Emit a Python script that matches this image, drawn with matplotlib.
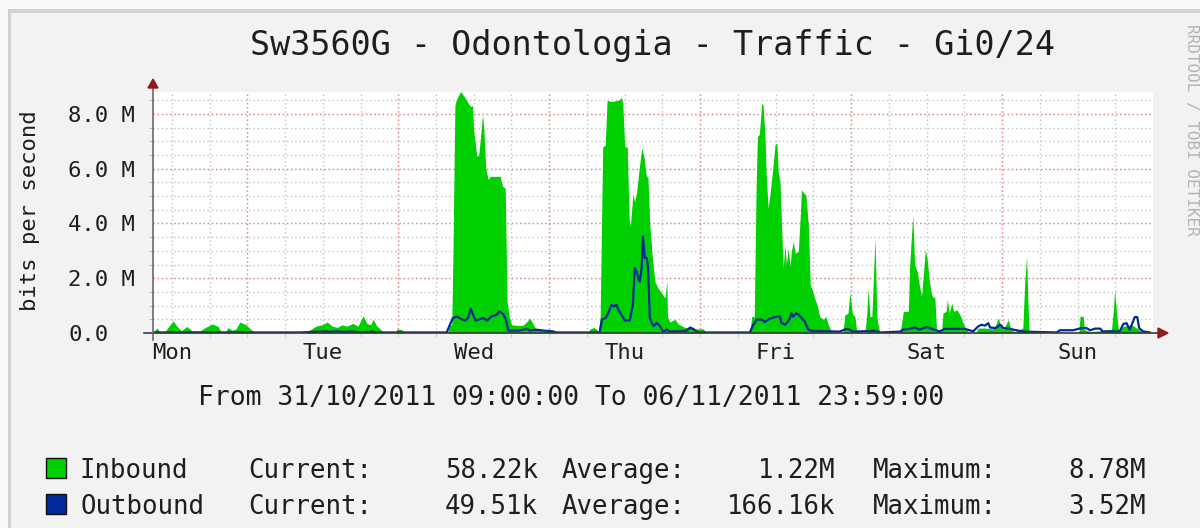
import matplotlib
matplotlib.use("Agg")
import numpy as np
import matplotlib.pyplot as plt
from matplotlib.patches import Rectangle, Polygon

W, H = 1200, 528

# time axis: hours since 31/10/2011 09:00, values in Mbit/s
in_hours = [0.0, 0.3, 0.6, 1.1, 1.9, 2.7, 3.2, 3.8, 4.5, 5.4, 6.2, 7.5, 8.3, 9.4, 10.3, 10.8,
            11.6, 11.9, 12.6, 13.2, 13.8, 14.8, 15.6, 16.5, 24.5, 25.0, 25.9, 26.9, 27.7, 28.5,
            29.3, 30.0, 30.8, 31.8, 32.6, 33.4, 34.0, 34.6, 35.0, 35.6, 36.1, 36.7, 38.5, 38.8,
            39.6, 39.9, 46.9, 47.1, 47.5, 47.7, 48.0, 48.2, 48.9, 49.6, 50.1, 50.5, 50.8, 51.0,
            51.5, 51.8, 52.4, 52.6, 52.9, 53.3, 53.6, 55.2, 55.6, 56.0, 56.3, 56.6, 57.0, 57.8,
            58.8, 59.4, 59.9, 60.5, 61.0, 63.6, 64.1, 69.2, 69.5, 70.1, 70.6, 70.8, 71.1, 71.5,
            71.9, 72.2, 72.9, 74.0, 74.5, 74.7, 75.0, 75.4, 75.7, 75.9, 76.3, 76.6, 76.9, 77.3,
            77.7, 78.1, 78.4, 78.7, 79.0, 79.4, 79.8, 80.3, 80.9, 81.4, 81.7, 81.8, 82.2, 83.0,
            83.5, 84.6, 85.4, 86.4, 87.5, 88.0, 94.9, 95.2, 95.6, 95.9, 96.1, 96.4, 96.8, 97.0,
            97.3, 97.5, 97.8, 98.1, 98.5, 98.9, 99.2, 99.4, 99.7, 99.9, 100.2, 100.5, 100.7,
            101.0, 101.3, 101.5, 101.8, 102.1, 102.6, 102.9, 103.1, 103.5, 103.8, 104.2, 104.5,
            104.9, 105.2, 105.6, 106.0, 106.6, 107.0, 107.4, 107.9, 109.7, 110.0, 110.5, 110.8,
            111.2, 111.6, 111.9, 113.2, 113.5, 113.7, 114.0, 114.3, 114.5, 114.8, 115.1, 115.3,
            115.6, 118.8, 119.3, 120.1, 120.3, 120.8, 121.1, 121.5, 121.8, 122.2, 122.5, 122.8,
            123.1, 123.4, 123.8, 124.1, 124.3, 124.6, 125.4, 125.6, 126.1, 126.3, 126.6, 127.0,
            127.3, 127.8, 128.3, 128.8, 129.3, 129.9, 130.8, 131.2, 132.3, 133.5, 134.0, 134.4,
            134.8, 135.2, 136.0, 136.4, 137.0, 138.3, 138.6, 138.9, 139.1, 139.3, 139.4, 147.2,
            147.4, 147.9, 148.1, 149.0, 152.4, 152.7, 152.9, 153.2, 153.5, 154.3, 155.6, 156.4,
            157.2, 158.5]
in_mbps = [0.0, 0.1, 0.18, 0.05, 0.05, 0.3, 0.44, 0.25, 0.08, 0.24, 0.08, 0.08, 0.2, 0.33, 0.25, 0.05,
           0.05, 0.2, 0.1, 0.15, 0.4, 0.3, 0.12, 0.0, 0.0, 0.12, 0.25, 0.3, 0.4, 0.25,
           0.2, 0.3, 0.25, 0.35, 0.25, 0.63, 0.35, 0.3, 0.5, 0.25, 0.15, 0.0, 0.0, 0.15,
           0.12, 0.0, 0.0, 0.3, 0.3, 3.0, 8.3, 8.5, 8.82, 8.6, 8.4, 8.27, 8.3, 7.36,
           6.45, 6.5, 7.97, 7.48, 6.03, 5.6, 5.72, 5.72, 5.35, 5.3, 1.15, 0.67, 0.3, 0.28,
           0.28, 0.4, 0.55, 0.3, 0.1, 0.05, 0.0, 0.0, 0.15, 0.2, 0.12, 0.0, 0.6, 6.8,
           6.85, 8.5, 8.45, 8.5, 8.6, 8.35, 6.8, 6.8, 4.2, 3.9, 5.05, 4.8, 5.15, 6.0,
           6.75, 6.39, 5.78, 5.66, 3.95, 2.74, 1.88, 1.64, 1.45, 1.27, 1.88, 0.6, 0.4, 0.5,
           0.33, 0.2, 0.2, 0.15, 0.15, 0.0, 0.0, 0.6, 0.6, 5.4, 7.18, 7.25, 8.39, 8.33,
           7.25, 5.78, 4.56, 5.05, 5.9, 6.87, 6.94, 5.9, 5.53, 4.2, 2.37, 3.22, 2.5,
           3.1, 2.43, 2.98, 3.34, 2.92, 2.98, 4.2, 5.23, 5.1, 5.05, 3.95, 1.76,
           1.52, 1.27, 1.03, 0.6, 0.5, 0.6, 0.28, 0.03, 0.0, 0.66, 0.72, 1.46,
           0.72, 0.6, 0.05, 0.0, 0.72, 1.64, 0.6, 0.6, 1.76, 3.47, 0.6, 0.28,
           0.0, 0.0, 0.79, 0.79, 2.43, 4.32, 2.49, 2.25, 1.82, 1.34, 2.19, 3.04,
           2.68, 1.95, 1.4, 1.28, 1.34, 0.05, 0.12, 0.73, 0.79, 1.22, 0.73, 1.1,
           0.79, 0.85, 0.67, 0.36, 0.12, 0.0, 0.0, 0.18, 0.18, 0.15, 0.3, 0.55,
           0.24, 0.12, 0.49, 0.12, 0.05, 0.18, 1.82, 2.8, 1.22, 0.05, 0.0, 0.0,
           0.61, 0.61, 0.12, 0.05, 0.12, 0.85, 1.58, 0.73, 0.12, 0.24, 0.3, 0.18,
           0.05, 0.05]

out_hours = [0.0, 23.4, 27.3, 28.1, 29.1, 30.5, 31.6, 32.9, 34.8, 35.5, 46.7, 47.2, 47.7, 48.3,
             49.1, 49.6, 50.1, 50.5, 50.9, 51.3, 52.5, 53.1, 53.8, 54.6, 55.1, 55.7, 56.1, 56.5,
             58.3, 59.4, 59.9, 61.0, 62.0, 63.6, 64.1, 71.0, 71.4, 72.0, 72.5, 72.9, 73.3, 73.7,
             74.0, 74.5, 75.0, 75.8, 76.3, 76.6, 76.9, 77.2, 77.4, 77.7, 77.9, 78.2, 78.5, 78.7,
             79.0, 79.3, 79.6, 80.1, 80.6, 81.1, 81.7, 82.2, 84.8, 85.4, 85.9, 86.4, 87.0, 94.9,
             95.4, 96.0, 96.8, 97.3, 97.8, 98.4, 99.2, 99.7, 99.9, 100.5, 101.0, 101.3, 101.5,
             101.8, 102.3, 102.7, 103.1, 103.6, 104.2, 104.7, 109.2, 110.2, 110.8, 111.3, 114.8,
             115.6, 118.8, 119.2, 120.3, 121.1, 121.9, 122.5, 123.0, 123.8, 125.1, 125.9, 129.1,
             130.4, 131.2, 131.7, 132.3, 132.8, 133.1, 134.0, 134.7, 135.2, 136.2, 137.3, 138.4,
             143.7, 144.2, 146.3, 147.6, 148.4, 149.0, 149.8, 150.6, 151.0, 153.7, 154.3, 154.8,
             155.3, 156.1, 156.5, 156.8, 157.4, 158.5]
out_mbps = [0.02, 0.02, 0.06, 0.04, 0.06, 0.04, 0.06, 0.02, 0.05, 0.02, 0.02, 0.3, 0.55, 0.6,
            0.5, 0.45, 0.55, 0.89, 0.66, 0.45, 0.55, 0.45, 0.6, 0.66, 0.79, 0.68, 0.5, 0.09,
            0.09, 0.15, 0.09, 0.12, 0.09, 0.06, 0.02, 0.02, 0.49, 0.55, 0.79, 1.03, 0.97, 1.03,
            0.85, 0.66, 0.46, 0.46, 1.03, 2.37, 2.25, 1.95, 1.88, 2.37, 3.52, 2.74, 2.74, 2.43,
            0.55, 0.37, 0.25, 0.37, 0.25, 0.05, 0.12, 0.05, 0.08, 0.2, 0.15, 0.05, 0.02, 0.02,
            0.28, 0.49, 0.49, 0.4, 0.49, 0.55, 0.6, 0.6, 0.37, 0.3, 0.43, 0.55, 0.72,
            0.6, 0.72, 0.66, 0.55, 0.43, 0.12, 0.08, 0.05, 0.15, 0.12, 0.05, 0.08,
            0.02, 0.05, 0.12, 0.15, 0.2, 0.12, 0.18, 0.22, 0.15, 0.06, 0.15, 0.15,
            0.06, 0.24, 0.3, 0.27, 0.36, 0.2, 0.18, 0.3, 0.18, 0.15, 0.1, 0.05,
            0.02, 0.1, 0.1, 0.18, 0.18, 0.1, 0.16, 0.16, 0.06, 0.06, 0.33, 0.36,
            0.12, 0.58, 0.58, 0.18, 0.06, 0.02]

day_labels = ["Mon", "Tue", "Wed", "Thu", "Fri", "Sat", "Sun"]
day_noon = [3, 27, 51, 75, 99, 123, 147]
midnights = [15, 39, 63, 87, 111, 135]
y_major = [0, 2, 4, 6, 8]
y_labels = ["0.0", "2.0 M", "4.0 M", "6.0 M", "8.0 M"]

legend_names = ["Inbound", "Outbound"]
legend_colors = ["#00CF00", "#002A97"]
legend_current = ["58.22k", "49.51k"]
legend_average = ["1.22M", "166.16k"]
legend_maximum = ["8.78M", "3.52M"]

MONO = "DejaVu Sans Mono"
TXT = "#1E1E1E"
X_END = 159.0
Y_TOP = 8.8


def fx(x):
    return x / W


def fy(y):
    return 1 - y / H


fig = plt.figure(figsize=(W / 100, H / 100), dpi=100, facecolor="#F2F2F2")

# cropped frame of the original image
fig.add_artist(Rectangle((0, fy(9)), 1, 9 / H, transform=fig.transFigure, color="#FAFAFA", lw=0))
fig.add_artist(Rectangle((0, 0), fx(8), 1, transform=fig.transFigure, color="#FAFAFA", lw=0))
fig.add_artist(Rectangle((fx(8), fy(13)), 1, 4 / H, transform=fig.transFigure, color="#D2D2D2", lw=0))
fig.add_artist(Rectangle((fx(8), 0), 3 / W, fy(9), transform=fig.transFigure, color="#D2D2D2", lw=0))

ax = fig.add_axes([fx(153), fy(333), 1000 / W, 241 / H])
ax.set_facecolor("white")
ax.set_xlim(0, X_END)
ax.set_ylim(0, Y_TOP)
for s in ax.spines.values():
    s.set_visible(False)

# grid: minor gray every 6h / 0.5M, major red at midnight / 2M
minor_x = np.arange(3, X_END, 6)
minor_y = np.arange(0.5, Y_TOP, 0.5)
dots = (0, (1, 2))
ax.vlines(minor_x, 0, Y_TOP, colors="#C4C4C4", linestyles=dots, lw=1, zorder=1)
ax.hlines(minor_y, 0, X_END, colors="#C4C4C4", linestyles=dots, lw=1, zorder=1)
ax.vlines(midnights, 0, Y_TOP, colors="#F08A8A", linestyles=dots, lw=1, zorder=1.5)
ax.hlines(y_major[1:], 0, X_END, colors="#F08A8A", linestyles=dots, lw=1, zorder=1.5)

ax.fill_between(in_hours, 0, in_mbps, color="#00CF00", lw=0, zorder=3)
ax.plot(out_hours, out_mbps, color="#002A97", lw=1.6, zorder=4)

# axes with arrows
px_h = X_END / 1000.0
px_v = Y_TOP / 241.0
ax.plot([-9 * px_h, 1158 * px_h - 153 * px_h], [0, 0], color="#3A3A3A", lw=1.2, clip_on=False, zorder=5)
ax.plot([0, 0], [-7 * px_v, 246 * px_v], color="#6A6A6A", lw=1.2, clip_on=False, zorder=5)
arrow_c = "#8E1C1C"
ax.add_patch(Polygon([[(1005) * px_h, 5 * px_v], [(1005) * px_h, -5 * px_v], [1015 * px_h, 0]],
                     closed=True, color=arrow_c, clip_on=False, zorder=6))
ax.add_patch(Polygon([[-5 * px_h, 245 * px_v], [5 * px_h, 245 * px_v], [0, 254 * px_v]],
                     closed=True, color=arrow_c, clip_on=False, zorder=6))

ax.set_xticks(day_noon)
ax.set_xticklabels(day_labels, family=MONO, fontsize=16, color=TXT)
ax.set_xticks(minor_x, minor=True)
ax.tick_params(axis="x", which="major", length=0, pad=7)
ax.tick_params(axis="x", which="minor", length=3, color="#C4C4C4")
ax.set_yticks(y_major)
ax.set_yticklabels(y_labels, family=MONO, fontsize=16, color=TXT, ha="left")
ax.set_yticks(minor_y, minor=True)
ax.tick_params(axis="y", which="major", length=0, pad=61)
ax.tick_params(axis="y", which="minor", length=3, color="#B0B0B0")

fig.text(fx(653), fy(55), "Sw3560G - Odontologia - Traffic - Gi0/24", family=MONO,
         fontsize=24, color=TXT, ha="center", va="baseline")
fig.text(fx(30), fy(211), "bits per second", family=MONO, fontsize=16, color=TXT,
         rotation=90, ha="center", va="center")
fig.text(fx(571), fy(405), "From 31/10/2011 09:00:00 To 06/11/2011 23:59:00", family=MONO,
         fontsize=19, color=TXT, ha="center", va="baseline")
fig.text(fx(1192), fy(130), "RRDTOOL / TOBI OETIKER", family=MONO, fontsize=11.5,
         color="#B4B4B4", rotation=270, ha="center", va="center")

# legend rows
for i, name in enumerate(legend_names):
    base = 478 + 36 * i
    fig.add_artist(Rectangle((fx(46), fy(base)), 20 / W, 20 / H, transform=fig.transFigure,
                             facecolor=legend_colors[i], edgecolor="#111111", lw=1))
    kw = dict(family=MONO, fontsize=18.5, color=TXT, va="baseline")
    fig.text(fx(80), fy(base), name, ha="left", **kw)
    fig.text(fx(248), fy(base), "Current:", ha="left", **kw)
    fig.text(fx(538), fy(base), legend_current[i], ha="right", **kw)
    fig.text(fx(562), fy(base), "Average:", ha="left", **kw)
    fig.text(fx(835), fy(base), legend_average[i], ha="right", **kw)
    fig.text(fx(873), fy(base), "Maximum:", ha="left", **kw)
    fig.text(fx(1146), fy(base), legend_maximum[i], ha="right", **kw)

fig.savefig("out.png", dpi=100, facecolor=fig.get_facecolor())
